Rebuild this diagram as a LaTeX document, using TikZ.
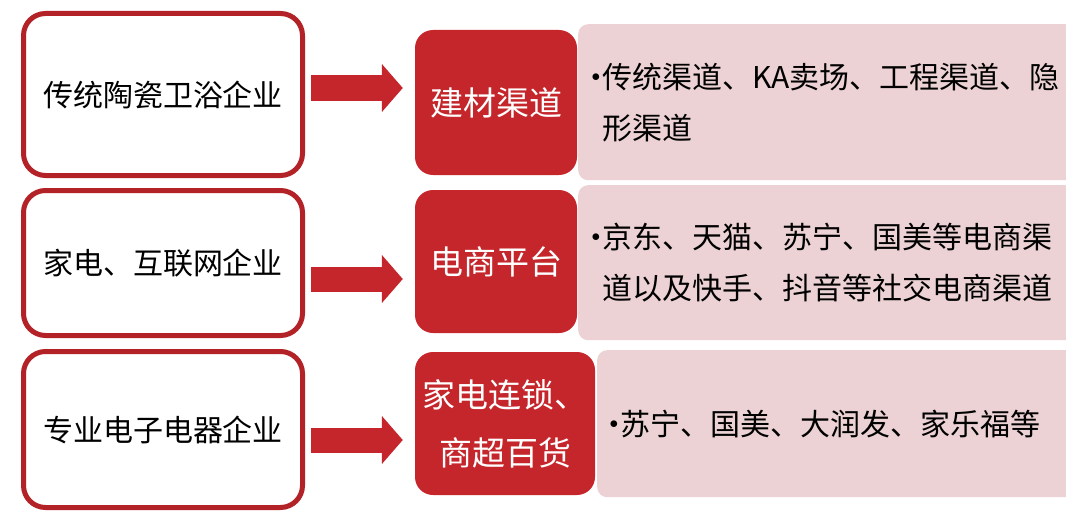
\documentclass[tikz,border=0pt]{standalone}
\usepackage{fontspec}
\setmainfont{Noto Sans CJK SC}
\usepackage{tikz}
\usetikzlibrary{arrows.meta}
\definecolor{boxred}{HTML}{C4262B}
\definecolor{edgered}{HTML}{B22227}
\definecolor{notepink}{HTML}{ECD2D4}
\newcommand{\notedot}{\llap{\raisebox{7pt}{\fontsize{16}{16}\selectfont$\bullet$}\hspace{2pt}}}

\begin{document}
\begin{tikzpicture}[x=1pt, y=-1pt,
    leftbox/.style={draw=edgered, line width=5pt, fill=white, rounded corners=22pt,
                    minimum width=279pt, font=\fontsize{30}{36}\selectfont},
    chanbox/.style={fill=boxred, text=white, rounded corners=18pt, align=center,
                    font=\fontsize{33}{58}\selectfont},
    notebox/.style={fill=notepink, rounded corners=10pt, minimum width=497pt, inner sep=0pt},
    notetext/.style={anchor=west, align=left, inner sep=0pt,
                     font=\fontsize{30}{51}\selectfont},
    flow/.style={draw=boxred, line width=25pt, shorten <=6pt, shorten >=12pt,
                 -{Triangle[length=21pt, width=47pt]}}]
    \useasboundingbox (0, 0) rectangle (1066, 511);

    \node[notebox, minimum height=156pt, anchor=north west](p1) at (578, 24) {};
    \node[notebox, minimum height=155pt, anchor=north west](p2) at (578, 185) {};
    \node[notebox, minimum height=147pt, anchor=north west](p3) at (597, 350) {};

    \node[leftbox, minimum height=162pt](l1) at (163, 94.5) {传统陶瓷卫浴企业\hspace{10pt}};
    \node[leftbox, minimum height=145pt](l2) at (163, 263) {家电、互联网企业\hspace{10pt}};
    \node[leftbox, minimum height=156pt](l3) at (163, 429.5) {专业电子电器企业\hspace{12pt}};

    \node[chanbox, minimum width=162pt, minimum height=145pt](c1) at (496, 102.5) {建材渠道};
    \node[chanbox, minimum width=162pt, minimum height=143pt](c2) at (496, 261.5) {电商平台};
    \node[chanbox, minimum width=180pt, minimum height=143pt](c3) at (505, 423.5)
        {家电连锁、\\商超百货};

    \node[notetext](t1) at ([xshift=24pt]p1.west)
        {\notedot 传统渠道、KA卖场、工程渠道、隐\\形渠道};
    \node[notetext](t2) at ([xshift=24pt]p2.west)
        {\notedot 京东、天猫、苏宁、国美等电商渠\\道以及快手、抖音等社交电商渠道};
    \node[notetext](t3) at ([xshift=23pt]p3.west)
        {\notedot 苏宁、国美、大润发、家乐福等};

    \draw[flow] ([yshift=6.5pt]l1.east) -- ([yshift=6.5pt]l1.east -| c1.west);
    \draw[flow] ([yshift=-16pt]l2.east) -- ([yshift=-16pt]l2.east -| c2.west);
    \draw[flow] ([yshift=-10.5pt]l3.east) -- ([yshift=-10.5pt]l3.east -| c3.west);
\end{tikzpicture}
\end{document}
